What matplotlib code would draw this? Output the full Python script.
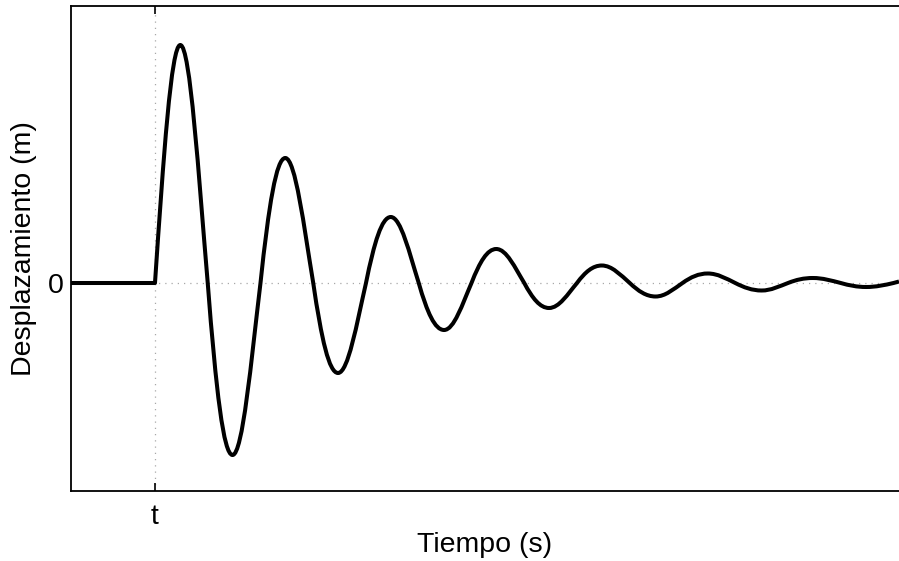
import matplotlib
matplotlib.use("Agg")
import matplotlib.pyplot as plt
from matplotlib.path import Path
from matplotlib.patches import PathPatch

plt.rcParams['font.family'] = ['Liberation Sans', 'DejaVu Sans']

# ---- data (time in periods, displacement arbitrary) ----
t_view = [0.204, 8.052]          # visible time window
y_view = [-2.08, 2.77]           # visible displacement window
t_onset = 1.0                    # instant "t" when the response starts
x_tick_labels = ['t']
y_tick_values = [0]
y_tick_labels = ['0']

# zero crossings of the response
zero_t = [1.0, 1.5, 2.0, 2.5, 3.0, 3.5, 4.0, 4.5, 5.0, 5.5, 6.0, 6.5, 7.0, 7.5, 8.0]
# extrema (peaks / troughs) between those crossings
ext_t = [1.24, 1.735, 2.235, 2.735, 3.235, 3.74, 4.235, 4.735, 5.235, 5.745,
         6.24, 6.75, 7.235, 7.74]
ext_y = [2.38, -1.72, 1.25, -0.90, 0.66, -0.47, 0.34, -0.25, 0.175, -0.135,
         0.095, -0.075, 0.05, -0.04]
# value where the trace leaves the picture on the right
end_t, end_y = 8.052, 0.015

# ---- build a smooth path (cubic Bezier quarter-waves) through the read points ----
def amp_at_zero(k):
    vals = []
    if k - 1 >= 0:
        vals.append(abs(ext_y[k - 1]))
    if k < len(ext_y):
        vals.append(abs(ext_y[k]))
    return sum(vals) / len(vals)

verts = [(t_view[0], 0.0), (t_onset, 0.0)]
codes = [Path.MOVETO, Path.LINETO]
for k in range(len(ext_t)):
    z0, e_t, e_y, z1 = zero_t[k], ext_t[k], ext_y[k], zero_t[k + 1]
    s = 1 if e_y > 0 else -1
    a0, a1 = amp_at_zero(k), amp_at_zero(k + 1)
    w = e_t - z0
    verts += [(z0 + 0.3343 * w, s * 0.5251 * a0), (e_t - 0.3619 * w, e_y), (e_t, e_y)]
    codes += [Path.CURVE4] * 3
    w = z1 - e_t
    verts += [(e_t + 0.3619 * w, e_y), (z1 - 0.3343 * w, s * 0.5251 * a1), (z1, 0.0)]
    codes += [Path.CURVE4] * 3
verts.append((end_t, end_y))
codes.append(Path.LINETO)

fig = plt.figure(figsize=(8.99, 5.61), dpi=100)
ax = fig.add_axes([71 / 899, 70 / 561, 1 - 71 / 899, 485 / 561])

ax.add_patch(PathPatch(Path(verts, codes), fill=False, lw=2.9,
                       edgecolor='black', joinstyle='round', capstyle='butt'))

ax.set_xlim(*t_view)
ax.set_ylim(*y_view)
ax.set_xticks([t_onset])
ax.set_xticklabels(x_tick_labels)
ax.set_yticks(y_tick_values)
ax.set_yticklabels(y_tick_labels)

ax.grid(True, linestyle=(0, (1, 4)), color='#a8a8a8', lw=0.9)
ax.set_axisbelow(True)

for side in ['left', 'bottom', 'top']:
    ax.spines[side].set_linewidth(1.3)
    ax.spines[side].set_color('black')
ax.spines['right'].set_visible(False)

ax.tick_params(axis='both', direction='in', length=6, width=1.2, labelsize=20.5,
               top=True, right=False, colors='black')
ax.tick_params(axis='x', pad=9)
ax.tick_params(axis='y', pad=5)

ax.set_xlabel('Tiempo (s)', fontsize=20.5, labelpad=1.5)
ax.set_ylabel('Desplazamiento (m)', fontsize=20.5, labelpad=8)

fig.savefig('out.png', dpi=100)
